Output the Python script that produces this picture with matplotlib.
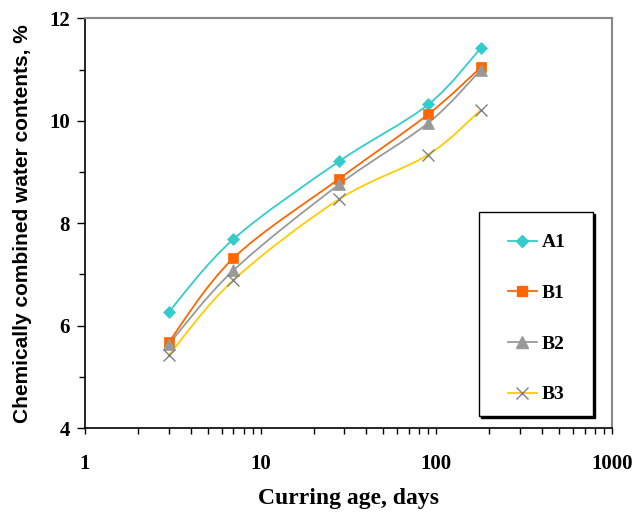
import numpy as np
import matplotlib.pyplot as plt
from matplotlib.path import Path
from matplotlib.patches import PathPatch, Rectangle
from matplotlib.ticker import FixedLocator, NullFormatter
from matplotlib.transforms import offset_copy

days = [3, 7, 28, 90, 180]
a1 = [6.27, 7.69, 9.21, 10.32, 11.43]
b1 = [5.68, 7.32, 8.87, 10.13, 11.05]
b2 = [5.64, 7.08, 8.76, 9.96, 11.00]
b3 = [5.42, 6.89, 8.47, 9.34, 10.22]

series = [
    ('A1', a1, '#33CCCC', 'D', '#33CCCC', 6),
    ('B1', b1, '#FF6600', 's', '#FF6600', 7.5),
    ('B2', b2, '#999999', '^', '#999999', 8),
    ('B3', b3, '#FFCC00', 'x', '#808080', 8),
]


def smooth_path(x, y):
    # excel-like smoothed line: catmull-rom bezier in log-x space
    lx = np.log10(x)
    y = np.asarray(y, float)
    pts = np.column_stack([lx, y])
    ext = np.vstack([pts[0], pts, pts[-1]])
    verts = [pts[0]]
    codes = [Path.MOVETO]
    for i in range(1, len(ext) - 2):
        p0, p1, p2, p3 = ext[i - 1], ext[i], ext[i + 1], ext[i + 2]
        c1 = p1 + (p2 - p0) / 6
        c2 = p2 - (p3 - p1) / 6
        verts += [c1, c2, p2]
        codes += [Path.CURVE4] * 3
    verts = np.array(verts)
    verts[:, 0] = 10 ** verts[:, 0]
    return Path(verts, codes)


fig = plt.figure(figsize=(6.33, 5.12), dpi=100)
ax = fig.add_axes([0.1343, 0.164, 0.8325, 0.800])

for name, vals, col, mk, mcol, ms in series:
    ax.add_patch(PathPatch(smooth_path(days, vals), fill=False, edgecolor=col, lw=1.3, zorder=2))
    ax.plot(days, vals, linestyle='none', marker=mk, color=mcol, markersize=ms,
            markeredgewidth=1.0 if mk == 'x' else 0.5, zorder=3)
    ax.plot([], [], color=col, marker=mk, markerfacecolor=mcol, markeredgecolor=mcol,
            markersize=ms, lw=1.3, label=name)

ax.set_xscale('log')
ax.set_xlim(1, 1000)
ax.set_ylim(4, 12)
ax.set_yticks([4, 6, 8, 10, 12])
ax.yaxis.set_minor_locator(FixedLocator([5, 7, 9, 11]))
ax.xaxis.set_minor_formatter(NullFormatter())
ax.set_xticks([1, 10, 100, 1000])
ax.set_xticklabels(['1', '10', '100', '1000'])

ax.tick_params(which='both', direction='out', color='black', width=1)
ax.tick_params(axis='y', which='major', length=6, pad=5)
ax.tick_params(axis='y', which='minor', length=4)
ax.tick_params(axis='x', which='major', length=4, pad=14.5)
ax.tick_params(axis='x', which='minor', length=4)

for lab in ax.get_xticklabels() + ax.get_yticklabels():
    lab.set_fontfamily('Liberation Serif')
    lab.set_fontweight('bold')
    lab.set_fontsize(15)

ax.spines['left'].set_color('black')
ax.spines['bottom'].set_color('black')
ax.spines['left'].set_linewidth(1.2)
ax.spines['bottom'].set_linewidth(1.2)
ax.spines['top'].set_color('#888888')
ax.spines['right'].set_color('#888888')
ax.spines['top'].set_linewidth(1.5)
ax.spines['right'].set_linewidth(1.5)

ax.set_xlabel('Curring age, days', family='Liberation Serif', fontweight='bold',
              fontsize=17, labelpad=10)
ax.set_ylabel('Chemically combined water contents, %', family='Liberation Sans',
              fontweight='bold', fontsize=15, labelpad=12)

# legend frame with a black drop shadow, drawn in axes coords
bx, by, bw, bh = 0.748, 0.029, 0.216, 0.498
shadow = Rectangle((bx, by), bw, bh, transform=offset_copy(ax.transAxes, fig, x=2, y=-2, units='dots'),
                   facecolor='black', edgecolor='black', lw=1, zorder=4, clip_on=False)
frame = Rectangle((bx, by), bw, bh, transform=ax.transAxes, facecolor='white',
                  edgecolor='black', lw=1, zorder=4.5, clip_on=False)
ax.add_patch(shadow)
ax.add_patch(frame)

leg = ax.legend(loc='center', bbox_to_anchor=(bx + bw / 2 + 0.002, by + bh / 2 - 0.011),
                borderaxespad=0, frameon=False,
                prop={'family': 'Liberation Serif', 'weight': 'bold', 'size': 14},
                handlelength=1.45, handletextpad=0.28, labelspacing=1.7, borderpad=0)
leg.set_zorder(5)

fig.savefig('out.png', dpi=100)
